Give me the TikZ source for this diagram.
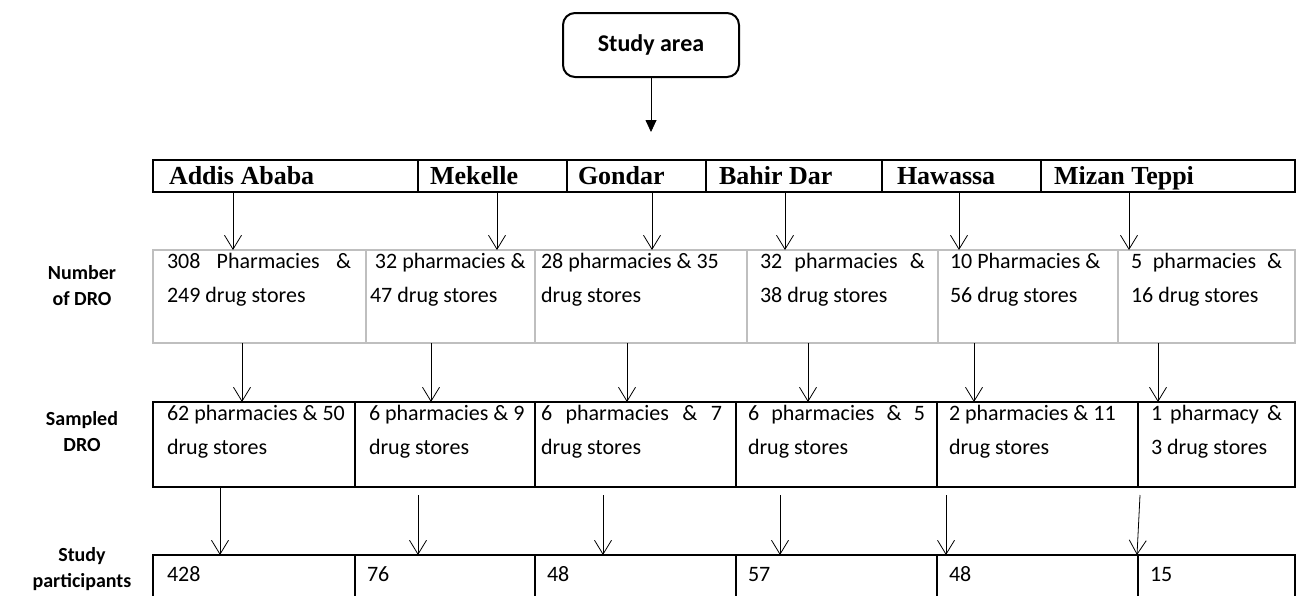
\documentclass[tikz,border=0pt]{standalone}
\usepackage{fontspec}
\setmainfont{Carlito}
\newfontfamily\tnr{Liberation Serif}
\usetikzlibrary{arrows.meta,calc}
\definecolor{grayline}{HTML}{BFBFBF}
\tikzset{
  every node/.style={inner sep=0pt, outer sep=0pt},
  arr/.style={line width=0.8pt, -{Straight Barb[length=14pt,width=17pt,line width=0.8pt]}},
  citycell/.style={draw=black, line width=2.4pt, anchor=north west},
  drocell/.style={draw=grayline, line width=1.8pt, anchor=north west},
  sampcell/.style={draw=black, line width=2.2pt, anchor=north west},
  partcell/.style={draw=black, line width=2.2pt, anchor=north west},
  citytxt/.style={font=\tnr\bfseries\fontsize{26}{30}\selectfont, anchor=base west},
  celltxt/.style={font=\fontsize{22}{34}\selectfont, anchor=north west, align=left,
                  execute at begin node=\strut},
  rowlabel/.style={font=\bfseries\fontsize{20}{26}\selectfont, align=center},
}
\begin{document}
\begin{tikzpicture}[x=1pt,y=-1pt]
\useasboundingbox (0,0) rectangle (1297,595);
\clip (0,0) rectangle (1297,595);

% Study area
\node[draw, line width=2pt, rounded corners=12pt, minimum width=176pt, minimum height=64pt,
      font=\bfseries\fontsize{24}{28}\selectfont] (area) at (651,45) {Study area};
\coordinate (areaEnd) at (651,132);
\draw[line width=0.8pt, -{Triangle[length=12pt,width=11pt]}] (area.south) -- (areaEnd);

% City row
\node[citycell, minimum width=265pt, minimum height=32pt] (c1) at (153,160) {};
\node[citycell, minimum width=149pt, minimum height=32pt] (c2) at (418,160) {};
\node[citycell, minimum width=139pt, minimum height=32pt] (c3) at (567,160) {};
\node[citycell, minimum width=176pt, minimum height=32pt] (c4) at (706,160) {};
\node[citycell, minimum width=159pt, minimum height=32pt] (c5) at (882,160) {};
\node[citycell, minimum width=254pt, minimum height=32pt] (c6) at (1041,160) {};
\node[citytxt] (t1) at ([xshift=16pt,yshift=8pt]c1.south west) {Addis Ababa};
\node[citytxt] (t2) at ([xshift=12pt,yshift=8pt]c2.south west) {Mekelle};
\node[citytxt] (t3) at ([xshift=11pt,yshift=8pt]c3.south west) {Gondar};
\node[citytxt] (t4) at ([xshift=13pt,yshift=8pt]c4.south west) {Bahir Dar};
\node[citytxt] (t5) at ([xshift=15pt,yshift=8pt]c5.south west) {Hawassa};
\node[citytxt] (t6) at ([xshift=13pt,yshift=8pt]c6.south west) {Mizan Teppi};

% DRO row
\node[drocell, minimum width=213pt, minimum height=93pt] (d1) at (153,250) {};
\node[drocell, minimum width=169pt, minimum height=93pt] (d2) at (366,250) {};
\node[drocell, minimum width=212pt, minimum height=93pt] (d3) at (535,250) {};
\node[drocell, minimum width=191pt, minimum height=93pt] (d4) at (747,250) {};
\node[drocell, minimum width=180pt, minimum height=93pt] (d5) at (938,250) {};
\node[drocell, minimum width=177pt, minimum height=93pt] (d6) at (1118,250) {};
\node[celltxt] (dt1) at ([xshift=14pt,yshift=-3pt]d1.north west) {\makebox[184pt][s]{308 Pharmacies \&}\\249 drug stores};
\node[celltxt] (dt2) at ([xshift=4pt,yshift=-3pt]d2.north west) {\ 32 pharmacies \&\\47 drug stores};
\node[celltxt] (dt3) at ([xshift=6pt,yshift=-3pt]d3.north west) {28 pharmacies \& 35\\drug stores};
\node[celltxt] (dt4) at ([xshift=13pt,yshift=-3pt]d4.north west) {\makebox[165pt][s]{32 pharmacies \&}\\38 drug stores};
\node[celltxt] (dt5) at ([xshift=12pt,yshift=-3pt]d5.north west) {10 Pharmacies \&\\56 drug stores};
\node[celltxt] (dt6) at ([xshift=13pt,yshift=-3pt]d6.north west) {\makebox[151pt][s]{5 pharmacies \&}\\16 drug stores};

% Sampled row
\node[sampcell, minimum width=202pt, minimum height=85pt] (s1) at (153,402) {};
\node[sampcell, minimum width=180pt, minimum height=85pt] (s2) at (355,402) {};
\node[sampcell, minimum width=201pt, minimum height=85pt] (s3) at (535,402) {};
\node[sampcell, minimum width=201pt, minimum height=85pt] (s4) at (736,402) {};
\node[sampcell, minimum width=201pt, minimum height=85pt] (s5) at (937,402) {};
\node[sampcell, minimum width=157pt, minimum height=85pt] (s6) at (1138,402) {};
\node[celltxt] (st1) at ([xshift=14pt,yshift=-3pt]s1.north west) {62 pharmacies \& 50\\drug stores};
\node[celltxt] (st2) at ([xshift=14pt,yshift=-3pt]s2.north west) {6 pharmacies \& 9\\drug stores};
\node[celltxt] (st3) at ([xshift=6pt,yshift=-3pt]s3.north west) {\makebox[181pt][s]{6 pharmacies \& 7}\\drug stores};
\node[celltxt] (st4) at ([xshift=12pt,yshift=-3pt]s4.north west) {\makebox[177pt][s]{6 pharmacies \& 5}\\drug stores};
\node[celltxt] (st5) at ([xshift=12pt,yshift=-3pt]s5.north west) {2 pharmacies \& 11\\drug stores};
\node[celltxt] (st6) at ([xshift=13pt,yshift=-3pt]s6.north west) {\makebox[131pt][s]{1 pharmacy \&}\\3 drug stores};

% Participants row
\node[partcell, minimum width=202pt, minimum height=60pt] (p1) at (153,555) {};
\node[partcell, minimum width=180pt, minimum height=60pt] (p2) at (355,555) {};
\node[partcell, minimum width=201pt, minimum height=60pt] (p3) at (535,555) {};
\node[partcell, minimum width=201pt, minimum height=60pt] (p4) at (736,555) {};
\node[partcell, minimum width=201pt, minimum height=60pt] (p5) at (937,555) {};
\node[partcell, minimum width=157pt, minimum height=60pt] (p6) at (1138,555) {};
\node[celltxt] (pt1) at ([xshift=14pt,yshift=-3pt]p1.north west) {428};
\node[celltxt] (pt2) at ([xshift=12pt,yshift=-3pt]p2.north west) {76};
\node[celltxt] (pt3) at ([xshift=12pt,yshift=-3pt]p3.north west) {48};
\node[celltxt] (pt4) at ([xshift=12pt,yshift=-3pt]p4.north west) {57};
\node[celltxt] (pt5) at ([xshift=12pt,yshift=-3pt]p5.north west) {48};
\node[celltxt] (pt6) at ([xshift=12pt,yshift=-3pt]p6.north west) {15};

% Row labels
\node[rowlabel] (l1) at (82,286) {Number\\of DRO};
\node[rowlabel] (l2) at (82,432) {Sampled\\DRO};
\node[rowlabel] (l3) at (82,569) {Study\\participants};

% Arrows city -> DRO
\draw[arr] ([xshift=80pt]c1.south west) -- ([xshift=80pt]d1.north west);
\draw[arr] ([xshift=79pt]c2.south west) -- ([xshift=131pt]d2.north west);
\draw[arr] ([xshift=85pt]c3.south west) -- ([xshift=117pt]d3.north west);
\draw[arr] ([xshift=79pt]c4.south west) -- ([xshift=38pt]d4.north west);
\draw[arr] ([xshift=77pt]c5.south west) -- ([xshift=21pt]d5.north west);
\draw[arr] ([xshift=88pt]c6.south west) -- ([xshift=11pt]d6.north west);

% Arrows DRO -> sampled
\draw[arr] ([xshift=89pt]d1.south west) -- ([xshift=89pt]s1.north west);
\draw[arr] ([xshift=65pt]d2.south west) -- ([xshift=76pt]s2.north west);
\draw[arr] ([xshift=92pt]d3.south west) -- ([xshift=92pt]s3.north west);
\draw[arr] ([xshift=61pt]d4.south west) -- ([xshift=72pt]s4.north west);
\draw[arr] ([xshift=36pt]d5.south west) -- ([xshift=37pt]s5.north west);
\draw[arr] ([xshift=40pt]d6.south west) -- ([xshift=20pt]s6.north west);

% Arrows sampled -> participants
\draw[arr] ([xshift=67pt,yshift=-1pt]s1.south west) -- ([xshift=67pt]p1.north west);
\draw[arr] ([xshift=63pt,yshift=-8pt]s2.south west) -- ([xshift=63pt]p2.north west);
\draw[arr] ([xshift=68pt,yshift=-8pt]s3.south west) -- ([xshift=68pt]p3.north west);
\draw[arr] ([xshift=44pt,yshift=-8pt]s4.south west) -- ([xshift=44pt]p4.north west);
\draw[arr] ([xshift=9pt,yshift=-8pt]s5.south west) -- ([xshift=9pt]p5.north west);
\draw[arr] ([xshift=2pt,yshift=-8pt]s6.south west) -- ([xshift=-1pt]p6.north west);
\end{tikzpicture}
\end{document}
